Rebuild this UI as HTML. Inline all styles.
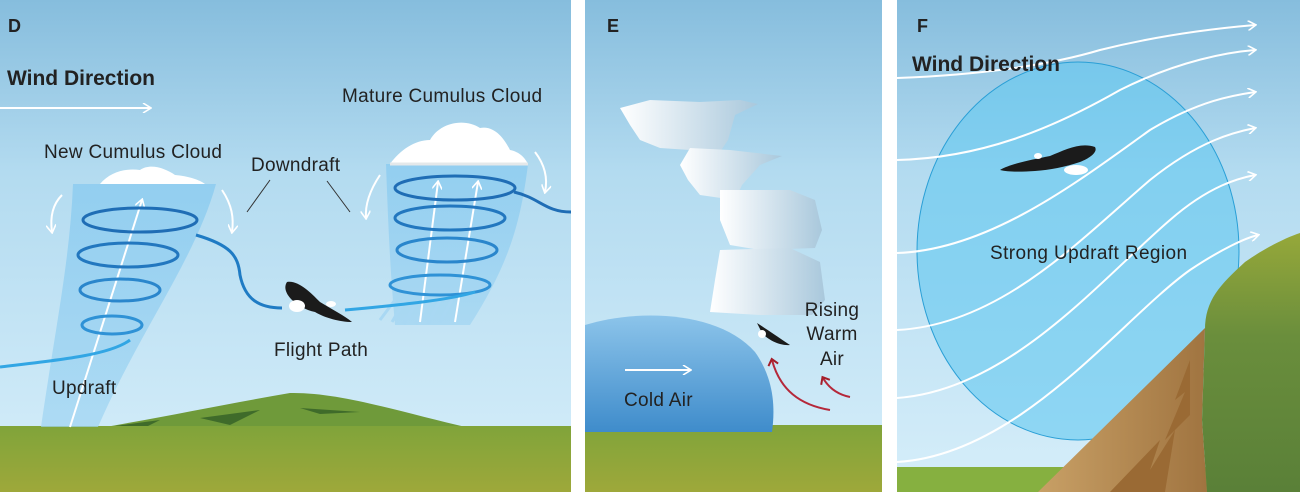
<!DOCTYPE html>
<html><head><meta charset="utf-8"><style>
html,body{margin:0;padding:0;background:#fff}
svg{display:block}
text{font-family:"Liberation Sans",sans-serif;fill:#222}
.l{font-size:19px;letter-spacing:0.3px}
</style></head><body>
<svg width="1300" height="492" viewBox="0 0 1300 492" xmlns="http://www.w3.org/2000/svg">
<defs>
<linearGradient id="sky" x1="0" y1="0" x2="0" y2="1">
<stop offset="0" stop-color="#86bddd"/><stop offset="0.35" stop-color="#b3dbf0"/><stop offset="1" stop-color="#d6eefa"/>
</linearGradient>
<linearGradient id="gnd" x1="0" y1="0" x2="0" y2="1">
<stop offset="0" stop-color="#80a43a"/><stop offset="1" stop-color="#9ea83a"/>
</linearGradient>
<linearGradient id="cold" x1="0" y1="0" x2="0" y2="1">
<stop offset="0" stop-color="#8cc4ea"/><stop offset="1" stop-color="#3f8ccb"/>
</linearGradient>
<linearGradient id="cl" x1="0" y1="0" x2="1" y2="0">
<stop offset="0" stop-color="#ffffff"/><stop offset="1" stop-color="#a9c8dc"/>
</linearGradient>
<linearGradient id="fun" x1="0" y1="0" x2="0" y2="1">
<stop offset="0" stop-color="#8fcdf0" stop-opacity="0.9"/><stop offset="1" stop-color="#9fd4f2" stop-opacity="0.7"/>
</linearGradient>
<linearGradient id="cliff" x1="0" y1="0" x2="0" y2="1">
<stop offset="0" stop-color="#96a83a"/><stop offset="0.4" stop-color="#6a8e3c"/><stop offset="1" stop-color="#5a8038"/>
</linearGradient>
<linearGradient id="rock" x1="0" y1="0" x2="1" y2="0">
<stop offset="0" stop-color="#c8a066"/><stop offset="1" stop-color="#a07440"/>
</linearGradient>
<marker id="ah" markerWidth="10" markerHeight="10" refX="8" refY="5" orient="auto" markerUnits="userSpaceOnUse"><path d="M1,0 L9,5 L1,10" fill="none" stroke="#fff" stroke-width="1.6"/></marker>
<marker id="ar" markerWidth="12" markerHeight="12" refX="6" refY="6" orient="auto" markerUnits="userSpaceOnUse"><path d="M1,1 L7,6 L1,11" fill="none" stroke="#a41e2a" stroke-width="2"/></marker>
</defs>

<!-- Panel D -->
<rect x="0" y="0" width="571" height="492" fill="url(#sky)"/>
<path d="M75,432 C150,420 220,405 290,393 C340,392 400,412 470,428 L470,432 Z" fill="#6f9a3a"/>
<path d="M100,428 L160,420 L140,430 Z M200,418 L260,410 L230,425Z M300,408 L360,412 L320,414Z" fill="#3f6b2a"/>
<rect x="0" y="426" width="571" height="66" fill="url(#gnd)"/>
<path d="M73,184 L216,184 C195,260 140,330 98,427 L41,427 C55,330 70,260 73,184Z" fill="url(#fun)"/>
<path d="M100,184 C110,172 125,168 140,170 C150,163 165,168 175,175 C188,176 200,180 205,184Z" fill="#fff"/>
<path d="M70,427 L142,200" stroke="#fff" stroke-width="2" marker-end="url(#ah)"/>
<path d="M386,164 L528,164 C520,230 505,270 470,325 L395,325 C390,270 388,220 386,164Z" fill="url(#fun)"/>
<path d="M380,320 L395,300 M392,322 L405,300 M404,324 L418,300 M416,324 L430,300 M428,324 L440,300 M440,322 L452,300" stroke="#a9d8f3" stroke-width="3"/>
<path d="M390,164 C400,150 415,140 430,140 C440,122 465,118 480,128 C495,125 505,140 510,150 C520,152 525,158 528,164Z" fill="#fff"/>
<path d="M390,164 L528,164" stroke="#e4e8ea" stroke-width="3"/>
<path d="M420,322 L438,182" stroke="#fff" stroke-width="2" marker-end="url(#ah)"/>
<path d="M455,322 L478,182" stroke="#fff" stroke-width="2" marker-end="url(#ah)"/>
<g fill="none" stroke-width="3">
<ellipse cx="140" cy="220" rx="57" ry="12" stroke="#1f6db5"/>
<ellipse cx="128" cy="255" rx="50" ry="12" stroke="#2277bf"/>
<ellipse cx="120" cy="290" rx="40" ry="11" stroke="#2a86cc"/>
<ellipse cx="112" cy="325" rx="30" ry="9" stroke="#2f92d6"/>
<path d="M0,367 C60,360 110,355 130,340" stroke="#32a6e4"/>
<path d="M196,235 C230,245 238,255 240,275 C245,300 260,308 282,308" stroke="#1f7bc4"/>
<ellipse cx="455" cy="188" rx="60" ry="12" stroke="#1f6db5"/>
<ellipse cx="450" cy="218" rx="55" ry="12" stroke="#2277bf"/>
<ellipse cx="447" cy="250" rx="50" ry="12" stroke="#2a86cc"/>
<ellipse cx="440" cy="285" rx="50" ry="10" stroke="#2f92d6"/>
<path d="M514,192 C540,198 545,212 571,212" stroke="#1f6db5"/>
<path d="M345,310 C400,305 450,300 475,292" stroke="#32a6e4"/>
</g>
<g fill="none" stroke="#fff" stroke-width="2" marker-end="url(#ah)">
<path d="M62,195 C52,205 50,218 52,232"/>
<path d="M222,190 C232,205 234,218 232,232"/>
<path d="M380,175 C370,190 365,205 366,218"/>
<path d="M535,152 C545,165 548,178 545,192"/>
</g>
<path d="M270,180 L247,212 M327,181 L350,212" stroke="#333" stroke-width="1"/>
<path d="M287,282 C298,280 310,292 320,302 C333,310 345,316 352,322 C340,322 325,318 315,312 C305,310 298,305 292,300 C287,295 283,288 287,282Z" fill="#1b1b1b"/>
<ellipse cx="297" cy="306" rx="8" ry="6" fill="#fff"/>
<ellipse cx="331" cy="304" rx="5" ry="3" fill="#fff"/>
<text x="8" y="32" font-size="18" font-weight="bold">D</text>
<text x="7" y="85" font-size="21" font-weight="bold">Wind Direction</text>
<path d="M0,108 L150,108" stroke="#fff" stroke-width="2" marker-end="url(#ah)"/>
<text x="44" y="158" class="l">New Cumulus Cloud</text>
<text x="342" y="102" class="l">Mature Cumulus Cloud</text>
<text x="251" y="171" class="l">Downdraft</text>
<text x="274" y="356" class="l">Flight Path</text>
<text x="52" y="394" class="l">Updraft</text>

<!-- Panel E -->
<rect x="585" y="0" width="297" height="492" fill="url(#sky)"/>
<rect x="585" y="425" width="297" height="67" fill="url(#gnd)"/>
<g fill="url(#cl)">
<path d="M620,108 L650,100 L700,102 L740,100 L758,104 L735,115 L728,140 L720,152 L690,150 L660,148 L640,140 L630,125Z"/>
<path d="M690,148 L730,150 L782,156 L760,165 L742,185 L735,200 L700,195 L688,180 L680,165Z"/>
<path d="M720,190 L790,190 L815,200 L822,230 L815,248 L760,250 L730,245 L720,220Z"/>
<path d="M720,250 L790,248 L820,262 L825,300 L812,315 L760,315 L710,312 L715,280Z"/>
</g>
<path d="M585,325 C640,308 720,312 755,352 C775,380 775,410 772,432 L585,432 Z" fill="url(#cold)"/>
<path d="M625,370 L690,370" stroke="#fff" stroke-width="2" marker-end="url(#ah)"/>
<path d="M757,323 C765,328 775,335 790,345 C780,346 768,340 762,333Z" fill="#1b1b1b"/>
<ellipse cx="762" cy="334" rx="4" ry="4" fill="#fff"/>
<path d="M830,410 C800,405 780,390 772,360" stroke="#b5283a" stroke-width="2" fill="none" marker-end="url(#ar)"/>
<path d="M850,397 C840,395 830,390 823,378" stroke="#b5283a" stroke-width="2" fill="none" marker-end="url(#ar)"/>
<text x="607" y="32" font-size="18" font-weight="bold">E</text>
<text x="624" y="406" class="l">Cold Air</text>
<text x="832" y="316" class="l" text-anchor="middle">Rising</text>
<text x="832" y="340" class="l" text-anchor="middle">Warm</text>
<text x="832" y="365" class="l" text-anchor="middle">Air</text>

<!-- Panel F -->
<rect x="897" y="0" width="403" height="492" fill="url(#sky)"/>
<rect x="897" y="467" width="403" height="25" fill="#86b040"/>
<ellipse cx="1078" cy="251" rx="161" ry="189" fill="#62c8f0" fill-opacity="0.6" stroke="#2a9fd6" stroke-width="1"/>
<g fill="none" stroke="#fff" stroke-width="2" marker-end="url(#ah)">
<path d="M897,78 C980,75 1050,65 1100,50 C1160,35 1220,28 1255,25"/>
<path d="M897,160 C980,158 1050,130 1120,90 C1180,60 1230,52 1255,50"/>
<path d="M897,253 C990,250 1080,180 1150,130 C1200,100 1235,95 1255,92"/>
<path d="M897,330 C1000,325 1080,240 1150,180 C1200,140 1235,132 1255,128"/>
<path d="M897,398 C1010,390 1100,280 1170,220 C1210,185 1240,178 1255,175"/>
<path d="M897,462 C1020,455 1120,320 1190,270 C1220,250 1245,238 1258,235"/>
</g>
<path d="M1038,492 L1205,328 L1202,420 L1207,492Z" fill="url(#rock)"/>
<path d="M1190,360 L1175,400 L1185,392 L1165,440 L1190,415 Z M1110,492 L1160,440 L1150,470 L1175,430 L1165,492Z" fill="#9a6a34"/>
<path d="M1205,330 C1205,300 1220,285 1245,262 C1265,248 1285,238 1300,233 L1300,492 L1207,492 L1202,420Z" fill="url(#cliff)"/>
<path d="M1000,170 C1010,164 1030,160 1050,156 C1065,150 1080,142 1095,147 C1098,152 1090,158 1080,162 C1065,167 1050,170 1035,171 C1020,172 1008,172 1000,170Z" fill="#1b1b1b"/>
<ellipse cx="1076" cy="170" rx="12" ry="5" fill="#fff"/>
<ellipse cx="1038" cy="156" rx="4" ry="3" fill="#fff"/>
<text x="917" y="32" font-size="18" font-weight="bold">F</text>
<text x="912" y="71" font-size="21" font-weight="bold">Wind Direction</text>
<text x="990" y="259" font-size="19" letter-spacing="0.4">Strong Updraft Region</text>
</svg>
</body></html>
